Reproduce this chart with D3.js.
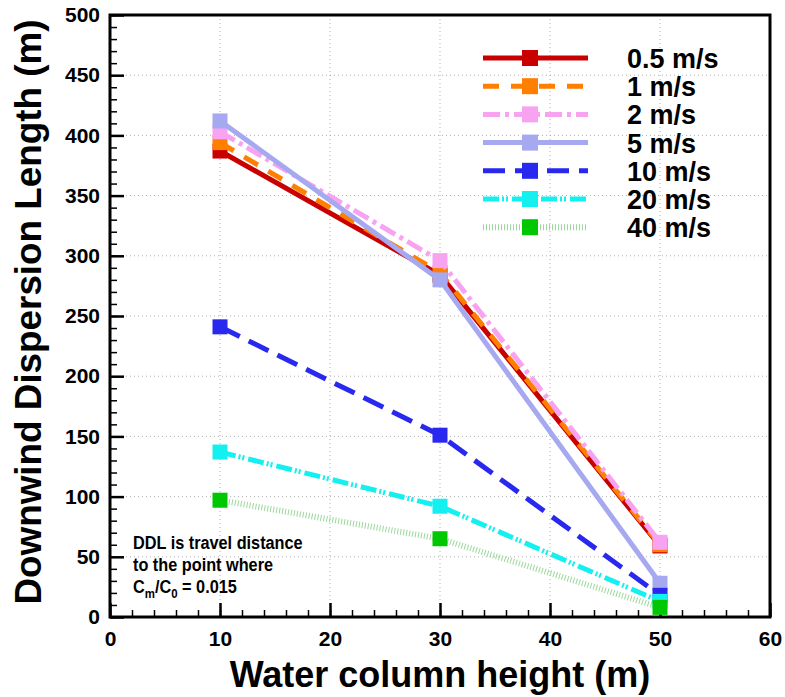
<!DOCTYPE html>
<html>
<head>
<meta charset="utf-8">
<script src="https://cdn.jsdelivr.net/npm/d3@7"></script>
<style>
  body { margin: 0; background: #fff; }
  text { font-family: Arial, "Liberation Sans", sans-serif; font-weight: bold; fill: #000; }
</style>
</head>
<body>
<div id="chart"></div>
<script>
// water column heights (m)
var heights = [10, 30, 50];
// downwind dispersion length (m) for each wind speed
var ddl05 = [387, 284, 59];
var ddl1 = [394, 286, 60];
var ddl2 = [403, 296, 62];
var ddl5 = [412, 280, 28];
var ddl10 = [241, 151, 18];
var ddl20 = [137, 92, 13];
var ddl40 = [97, 65, 8];
var speedLabels = ["0.5 m/s", "1 m/s", "2 m/s", "5 m/s", "10 m/s", "20 m/s", "40 m/s"];
var xTicks = [0, 10, 20, 30, 40, 50, 60];
var yTicks = [0, 50, 100, 150, 200, 250, 300, 350, 400, 450, 500];

var W = 785, H = 697;
var pLeft = 110, pRight = 770, pTop = 15, pBottom = 617;

// line look for every series, same order as speedLabels
var styles = [
  { color: "#c80000", dash: null, width: 5 },
  { color: "#ff8000", dash: "16,12", width: 5 },
  { color: "#f7a3f2", dash: "17,5,4,5", width: 5 },
  { color: "#a6a9f0", dash: null, width: 5 },
  { color: "#2828ee", dash: "22,10", width: 5 },
  { color: "#14f0f0", dash: "16,3,2,2,2,4", width: 5 },
  { color: "#00c800", dash: "1,2", width: 6, lineColor: "#9ad89a" }
];
var allSeries = [ddl05, ddl1, ddl2, ddl5, ddl10, ddl20, ddl40];

var svg = d3.select("#chart").append("svg")
  .attr("width", W)
  .attr("height", H);

var x = d3.scaleLinear().domain([0, 60]).range([pLeft, pRight]);
var y = d3.scaleLinear().domain([0, 500]).range([pBottom, pTop]);

// dotted grid at the major ticks
svg.append("g").selectAll("line")
  .data(xTicks.slice(1, -1))
  .enter().append("line")
  .attr("x1", function(d) { return x(d); })
  .attr("x2", function(d) { return x(d); })
  .attr("y1", pTop).attr("y2", pBottom)
  .attr("stroke", "#b0b0b0").attr("stroke-width", 1)
  .attr("stroke-dasharray", "1,3");
svg.append("g").selectAll("line")
  .data(yTicks.slice(1, -1))
  .enter().append("line")
  .attr("y1", function(d) { return y(d); })
  .attr("y2", function(d) { return y(d); })
  .attr("x1", pLeft).attr("x2", pRight)
  .attr("stroke", "#b0b0b0").attr("stroke-width", 1)
  .attr("stroke-dasharray", "1,3");

// axes, ticks pointing into the plot
var xMinor = d3.axisBottom(x).ticks(30).tickSize(-7).tickFormat("");
var xMajor = d3.axisBottom(x).tickValues(xTicks).tickSize(-14).tickPadding(14);
var yMinor = d3.axisLeft(y).ticks(50).tickSize(-7).tickFormat("");
var yMajor = d3.axisLeft(y).tickValues(yTicks).tickSize(-14).tickPadding(10);

var gxm = svg.append("g").attr("transform", "translate(0," + pBottom + ")").call(xMinor);
gxm.selectAll(".tick line").attr("stroke-width", 1.5);
var gx = svg.append("g").attr("transform", "translate(0," + pBottom + ")").call(xMajor);
gx.selectAll(".tick line").attr("stroke-width", 2.5);
gx.selectAll(".tick text").attr("font-size", 21).attr("dy", "0.71em")
  .attr("font-family", 'Arial, "Liberation Sans", sans-serif').attr("font-weight", "bold");

var gym = svg.append("g").attr("transform", "translate(" + pLeft + ",0)").call(yMinor);
gym.selectAll(".tick line").attr("stroke-width", 1.5);
var gy = svg.append("g").attr("transform", "translate(" + pLeft + ",0)").call(yMajor);
gy.selectAll(".tick line").attr("stroke-width", 2.5);
gy.selectAll(".tick text").attr("font-size", 21)
  .attr("font-family", 'Arial, "Liberation Sans", sans-serif').attr("font-weight", "bold");

svg.selectAll(".domain").remove();

// frame
svg.append("rect")
  .attr("x", pLeft).attr("y", pTop)
  .attr("width", pRight - pLeft).attr("height", pBottom - pTop)
  .attr("fill", "none").attr("stroke", "#000").attr("stroke-width", 3);

// series lines and markers
var line = d3.line()
  .x(function(d, i) { return x(heights[i]); })
  .y(function(d) { return y(d); });

var ms = 15;
allSeries.forEach(function(vals, k) {
  var st = styles[k];
  var g = svg.append("g");
  g.append("path")
    .attr("d", line(vals))
    .attr("fill", "none")
    .attr("stroke", st.lineColor || st.color)
    .attr("stroke-width", st.width)
    .attr("stroke-dasharray", st.dash);
  g.selectAll("rect")
    .data(vals)
    .enter().append("rect")
    .attr("x", function(d, i) { return x(heights[i]) - ms / 2; })
    .attr("y", function(d) { return y(d) - ms / 2; })
    .attr("width", ms).attr("height", ms)
    .attr("fill", st.color);
});

// legend
var legend = svg.append("g");
speedLabels.forEach(function(lab, k) {
  var st = styles[k];
  var ly = 58 + k * 28.2;
  legend.append("line")
    .attr("x1", 483).attr("x2", 588)
    .attr("y1", ly).attr("y2", ly)
    .attr("stroke", st.lineColor || st.color)
    .attr("stroke-width", st.width)
    .attr("stroke-dasharray", st.dash);
  legend.append("rect")
    .attr("x", 530 - 8).attr("y", ly - 8)
    .attr("width", 16).attr("height", 16)
    .attr("fill", st.color);
  legend.append("text")
    .attr("x", 627).attr("y", ly + 10)
    .attr("font-size", 27)
    .text(lab);
});

// note (slightly condensed like the original)
var note = svg.append("text")
  .attr("font-size", 18.5)
  .attr("transform", "translate(133,0) scale(0.88,1)");
note.append("tspan").attr("x", 0).attr("y", 549).text("DDL is travel distance");
note.append("tspan").attr("x", 0).attr("y", 571).text("to the point where");
var l3 = note.append("tspan").attr("x", 0).attr("y", 593).text("C");
l3.append("tspan").attr("dy", 5).attr("font-size", 13).text("m");
l3.append("tspan").attr("dy", -5).text("/C");
l3.append("tspan").attr("dy", 5).attr("font-size", 13).text("0");
l3.append("tspan").attr("dy", -5).text(" = 0.015");

// axis titles
svg.append("text")
  .attr("x", (pLeft + pRight) / 2).attr("y", 687)
  .attr("text-anchor", "middle")
  .attr("font-size", 36)
  .text("Water column height (m)");

svg.append("text")
  .attr("transform", "translate(41," + 312 + ") rotate(-90)")
  .attr("text-anchor", "middle")
  .attr("font-size", 37)
  .attr("textLength", 585)
  .attr("lengthAdjust", "spacingAndGlyphs")
  .text("Downwind Dispersion Length (m)");
</script>
</body>
</html>
